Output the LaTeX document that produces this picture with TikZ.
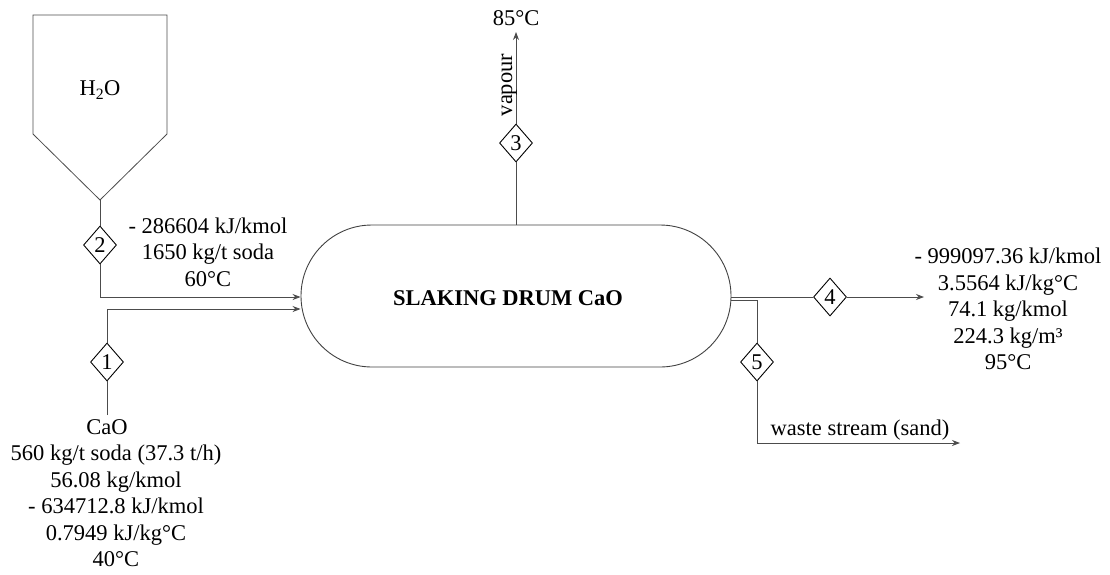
\documentclass[tikz,border=0pt]{standalone}
\usepackage{fontspec}
\setmainfont{Liberation Serif}
\usetikzlibrary{shapes.geometric,shapes.misc,arrows.meta}
\begin{document}
\begin{tikzpicture}[x=1pt,y=1pt,
  line/.style={draw=black!70, line width=0.8pt},
  arr/.style={line, -{Stealth[length=8pt,width=6pt]}},
  stream/.style={shape=diamond, draw=black, line width=0.9pt, inner sep=0pt,
     minimum width=33pt, minimum height=38pt, font=\fontsize{22.5}{26.5}\selectfont},
  lbl/.style={align=center, inner sep=0pt, font=\fontsize{22.5}{26.5}\selectfont},
  drumbox/.style={shape=rounded rectangle, draw=black!75, line width=0.9pt,
     minimum width=430pt, minimum height=142pt, inner sep=0pt}]
\useasboundingbox (0,0) rectangle (1110,-574);
% hopper
\draw[line] (33,-15) -- (167,-15) -- (167,-134) -- (100,-200) -- (33,-134) -- cycle;
\node[lbl] (h2o) at (100,-90) {H\textsubscript{2}O};
\coordinate (hop) at (100,-200);
% drum
\node[drumbox] (drum) at (516,-296) {};
\node[lbl, font=\fontsize{22.5}{26.5}\selectfont\bfseries] (drumlbl) at (508,-298) {SLAKING DRUM CaO};
% stream 2
\node[stream] (d2) at (100,-245) {2};
\draw[line] (hop) -- (d2);
\draw[arr] (d2) |- ([yshift=-1pt]drum.west);
\node[lbl] (t2) at (208,-252) {- 286604 kJ/kmol\\1650 kg/t soda\\60°C};
% stream 1
\node[stream] (d1) at (107,-362) {1};
\coordinate (c1) at (107,-415);
\draw[line] (c1) -- (d1);
\draw[arr] (d1) |- ([yshift=-13pt]drum.west);
\node[lbl] (t1) at (116,-493) {CaO\hspace*{18pt}\\560 kg/t soda (37.3 t/h)\\56.08 kg/kmol\\- 634712.8 kJ/kmol\\0.7949 kJ/kg°C\\40°C};
% stream 3
\node[stream] (d3) at (516,-143) {3};
\coordinate (c3) at (516,-32);
\draw[line] (drum.north) -- (d3);
\draw[arr] (d3) -- (c3);
\node[lbl] (t3) at (516,-18) {85°C};
\node[lbl, rotate=90, anchor=base] (vap) at (512,-85) {vapour};
% stream 4
\node[stream] (d4) at (830,-297) {4};
\coordinate (c4) at (924,-297);
\draw[line] ([yshift=-1pt]drum.east) -- (d4);
\draw[arr] (d4) -- (c4);
\node[lbl] (t4) at (1008,-309) {- 999097.36 kJ/kmol\\3.5564 kJ/kg°C\\74.1 kg/kmol\\224.3 kg/m³\\95°C};
% stream 5
\node[stream] (d5) at (757,-362) {5};
\coordinate (c5) at (960,-443);
\draw[line] ([yshift=-4pt]drum.east) -| (d5);
\draw[arr] (d5) |- (c5);
\node[lbl] (t5) at (860,-430) {waste stream (sand)};
\end{tikzpicture}
\end{document}
